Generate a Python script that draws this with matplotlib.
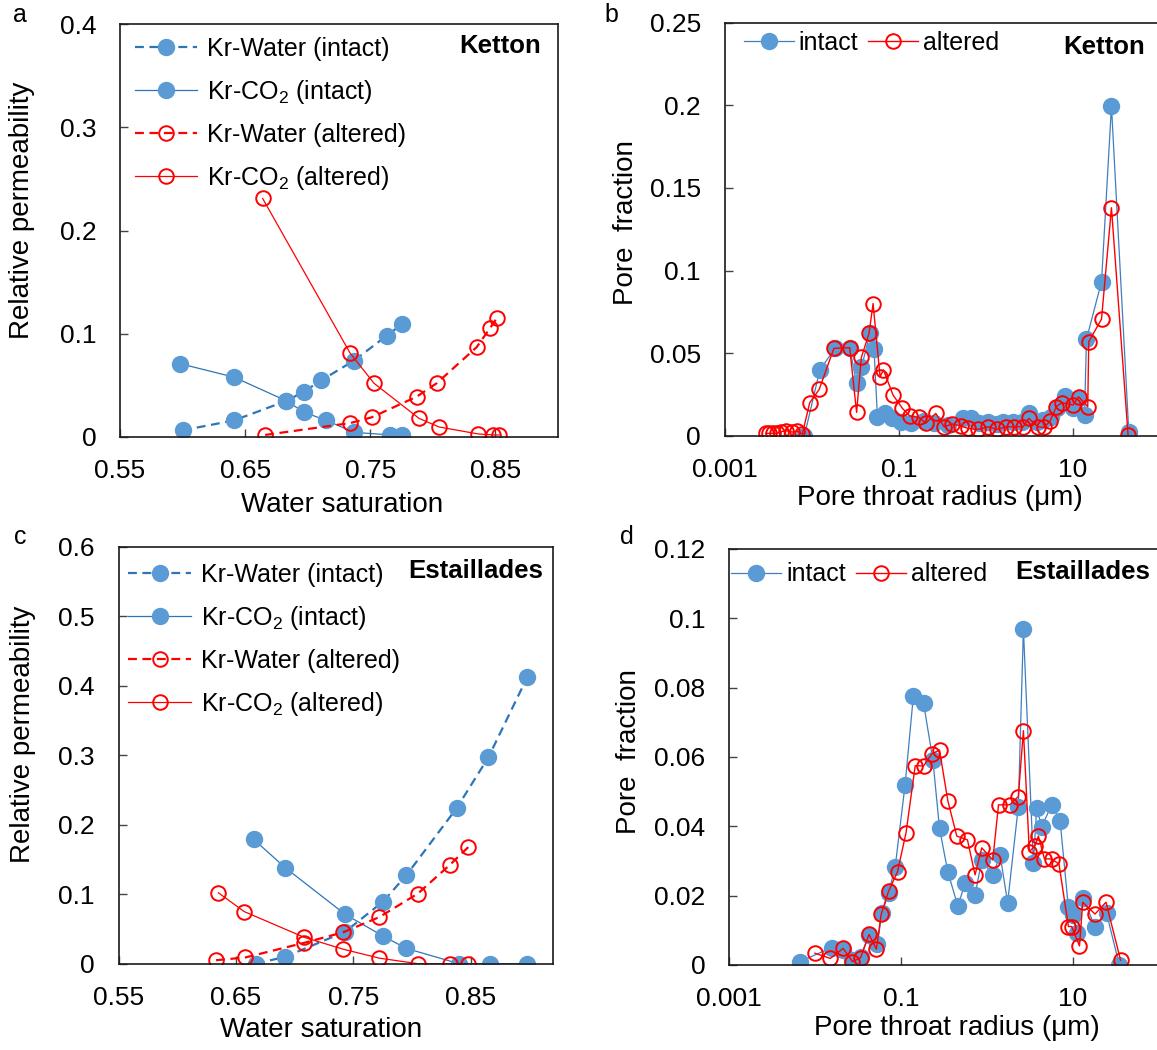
import numpy as np
import matplotlib
matplotlib.use('Agg')
import matplotlib.pyplot as plt
from matplotlib.ticker import FixedLocator, FuncFormatter

plt.rcParams['font.family'] = ['Liberation Sans', 'DejaVu Sans']
plt.rcParams['mathtext.fontset'] = 'custom'
plt.rcParams['mathtext.rm'] = 'Liberation Sans'
plt.rcParams['mathtext.it'] = 'Liberation Sans:italic'

BLUE = '#5B9BD5'
BLUE_LINE = '#2E75B6'
RED = '#FF0000'

# Ketton relative permeability
ket_sw_water_int = [0.600, 0.641, 0.683, 0.697, 0.711, 0.737, 0.763, 0.775]
ket_kr_water_int = [0.0065, 0.016, 0.035, 0.044, 0.055, 0.074, 0.098, 0.109]
ket_sw_co2_int = [0.598, 0.641, 0.683, 0.697, 0.715, 0.737, 0.766, 0.775]
ket_kr_co2_int = [0.071, 0.058, 0.035, 0.024, 0.016, 0.0045, 0.002, 0.002]
ket_sw_water_alt = [0.666, 0.734, 0.751, 0.787, 0.803, 0.835, 0.846, 0.851]
ket_kr_water_alt = [0.002, 0.0135, 0.019, 0.039, 0.052, 0.087, 0.106, 0.115]
ket_sw_co2_alt = [0.664, 0.734, 0.753, 0.789, 0.805, 0.836, 0.848, 0.853]
ket_kr_co2_alt = [0.231, 0.081, 0.052, 0.018, 0.0097, 0.003, 0.002, 0.002]

# Estaillades relative permeability
est_sw_water_int = [0.667, 0.692, 0.743, 0.775, 0.795, 0.838, 0.865, 0.898]
est_kr_water_int = [0.0, 0.010, 0.046, 0.089, 0.127, 0.224, 0.297, 0.412]
est_sw_co2_int = [0.665, 0.692, 0.743, 0.775, 0.795, 0.840, 0.866, 0.898]
est_kr_co2_int = [0.179, 0.138, 0.071, 0.040, 0.022, 0.0, 0.0, 0.0]
est_sw_water_alt = [0.633, 0.658, 0.708, 0.741, 0.772, 0.805, 0.832, 0.848]
est_kr_water_alt = [0.005, 0.009, 0.030, 0.045, 0.067, 0.101, 0.142, 0.168]
est_sw_co2_alt = [0.635, 0.657, 0.708, 0.741, 0.772, 0.805, 0.832, 0.848]
est_kr_co2_alt = [0.102, 0.075, 0.038, 0.021, 0.008, 0.0, 0.0, 0.0]

# Ketton pore throat size distribution
ket_r_int = [0.00826, 0.0124, 0.0185, 0.0273, 0.0328, 0.0373, 0.0468, 0.052, 0.0569, 0.069,
             0.0847, 0.105, 0.137, 0.195, 0.255, 0.363, 0.54, 0.67, 0.84, 1.07,
             1.36, 1.57, 2.07, 2.6, 3.11, 3.9, 4.59, 5.58, 6.5, 8.07,
             10.0, 11.6, 13.6, 14.3, 21.3, 27.7, 43.8]
ket_f_int = [0.0, 0.0398, 0.0528, 0.0533, 0.0317, 0.0414, 0.062, 0.0523, 0.0115, 0.0139,
             0.0105, 0.0085, 0.0075, 0.009, 0.0075, 0.0065, 0.0105, 0.0105, 0.0075, 0.0085,
             0.007, 0.0085, 0.0085, 0.008, 0.0135, 0.008, 0.0095, 0.0115, 0.017, 0.024,
             0.0165, 0.0226, 0.0125, 0.0583, 0.0932, 0.1996, 0.0024]
ket_r_alt = [0.00297, 0.00325, 0.0036, 0.00405, 0.0045, 0.0051, 0.006, 0.0068, 0.0078, 0.0095,
             0.0122, 0.018, 0.0273, 0.0328, 0.0372, 0.0456, 0.0507, 0.061, 0.0667, 0.086,
             0.110, 0.134, 0.171, 0.204, 0.266, 0.332, 0.414, 0.515, 0.625, 0.81,
             1.07, 1.36, 1.70, 2.11, 2.69, 3.11, 3.97, 4.69, 5.47, 6.46,
             7.47, 10.0, 11.6, 14.8, 15.2, 21.3, 27.7, 43.0]
ket_f_alt = [0.0014, 0.0014, 0.0015, 0.0016, 0.0025, 0.003, 0.0022, 0.0028, 0.001, 0.020,
             0.028, 0.0529, 0.0533, 0.0141, 0.0474, 0.062, 0.080, 0.0357, 0.0398, 0.0246,
             0.0166, 0.0119, 0.0111, 0.0075, 0.0135, 0.0054, 0.0071, 0.0059, 0.0044, 0.0038,
             0.0054, 0.0038, 0.0054, 0.0054, 0.0054, 0.0105, 0.0054, 0.005, 0.009, 0.0176,
             0.020, 0.0186, 0.0236, 0.0176, 0.0569, 0.0706, 0.138, 0.0004]

# Estaillades pore throat size distribution
est_r_int = [0.00671, 0.0156, 0.0213, 0.0273, 0.034, 0.0426, 0.0534, 0.060, 0.072, 0.086,
             0.112, 0.140, 0.184, 0.236, 0.282, 0.352, 0.461, 0.560, 0.731, 0.875,
             1.175, 1.43, 1.75, 2.33, 2.67, 3.49, 3.81, 4.36, 5.70, 7.13,
             8.9, 10.2, 11.1, 13.3, 18.2, 24.8, 34.9]
est_f_int = [0.001, 0.005, 0.0043, 0.0014, 0.0024, 0.0087, 0.006, 0.0149, 0.0207, 0.0284,
             0.0519, 0.0777, 0.0755, 0.0591, 0.0394, 0.0269, 0.0170, 0.0236, 0.0202, 0.0303,
             0.026, 0.0317, 0.018, 0.0457, 0.0969, 0.0293, 0.0452, 0.0399, 0.0462, 0.0416,
             0.0168, 0.0144, 0.0091, 0.0192, 0.011, 0.0149, 0.0]
est_r_alt = [0.01, 0.0151, 0.0213, 0.0273, 0.034, 0.0426, 0.0519, 0.059, 0.072, 0.0915,
             0.115, 0.147, 0.184, 0.229, 0.282, 0.352, 0.448, 0.596, 0.731, 0.875,
             1.175, 1.37, 1.84, 2.33, 2.67, 3.13, 3.65, 3.99, 4.69, 5.70,
             6.93, 8.92, 9.73, 12.0, 13.1, 18.2, 24.4, 36.1]
est_f_alt = [0.0034, 0.0019, 0.0048, 0.001, 0.0021, 0.0088, 0.0046, 0.0146, 0.0213, 0.0269,
             0.0382, 0.0575, 0.0574, 0.0609, 0.0620, 0.0474, 0.0372, 0.0361, 0.026, 0.0338,
             0.0303, 0.0462, 0.0462, 0.0486, 0.0676, 0.0327, 0.0344, 0.0372, 0.0306, 0.0306,
             0.0291, 0.0111, 0.0111, 0.0055, 0.0181, 0.0147, 0.0181, 0.0014]

kr_labels = ['Kr-Water (intact)', 'Kr-CO$_\\mathregular{2}$ (intact)',
             'Kr-Water (altered)', 'Kr-CO$_\\mathregular{2}$ (altered)']

W, H = 1157, 1050
fig = plt.figure(figsize=(W / 100, H / 100), dpi=100)


def box(l, t, r, b):
    return [l / W, 1 - b / H, (r - l) / W, (b - t) / H]


fmt = FuncFormatter(lambda v, p: f'{v:g}')
DASH = (0, (4, 2.5))
MS_B, MS_R, MEW_R = 11.5, 10.5, 1.4


def style(ax):
    for s in ax.spines.values():
        s.set_color('#1a1a1a')
        s.set_linewidth(1.2)
    ax.tick_params(direction='in', length=6, width=1, colors='#444444',
                   labelcolor='black', labelsize=19, pad=16)
    ax.tick_params(axis='y', pad=17)
    ax.yaxis.set_major_formatter(fmt)
    ax.xaxis.set_major_formatter(fmt)


def kr_panel(ax, data, xmax, ymax, ystep, leg_xy, title, title_xy):
    (a1, b1), (a2, b2), (a3, b3), (a4, b4) = data
    ax.plot(a1, b1, ls=DASH, lw=1.6, color=BLUE_LINE, marker='o', ms=MS_B,
            mfc=BLUE, mec=BLUE, label=kr_labels[0])
    ax.plot(a2, b2, ls='-', lw=0.9, color=BLUE_LINE, marker='o', ms=MS_B,
            mfc=BLUE, mec=BLUE, label=kr_labels[1])
    ax.plot(a3, b3, ls=DASH, lw=1.6, color=RED, marker='o', ms=MS_R,
            mfc='none', mec=RED, mew=MEW_R, label=kr_labels[2])
    ax.plot(a4, b4, ls='-', lw=0.9, color=RED, marker='o', ms=MS_R,
            mfc='none', mec=RED, mew=MEW_R, label=kr_labels[3])
    ax.set_xlim(0.55, xmax)
    ax.set_ylim(0, ymax)
    ax.xaxis.set_major_locator(FixedLocator([0.55, 0.65, 0.75, 0.85]))
    ax.yaxis.set_major_locator(FixedLocator(np.arange(0, ymax + 1e-9, ystep)))
    style(ax)
    ax.legend(loc='upper left', bbox_to_anchor=leg_xy, frameon=False, fontsize=18,
              handlelength=2.5, handletextpad=0.4, labelspacing=0.68, borderpad=0,
              borderaxespad=0)
    ax.text(*title_xy, title, transform=ax.transAxes, ha='right', va='center',
            fontsize=18.5, fontweight='bold')
    ax.set_xlabel('Water saturation', fontsize=20, va='center')
    ax.set_ylabel('Relative permeability', fontsize=20, va='center', ha='center')


def psd_panel(ax, r1, f1, r2, f2, ymax, ystep, leg_xy, title, title_xy):
    ax.plot(r1, f1, ls='-', lw=0.9, color='#3F7FC0', marker='o', ms=MS_B,
            mfc=BLUE, mec=BLUE, label='intact')
    ax.plot(r2, f2, ls='-', lw=1.0, color=RED, marker='o', ms=MS_R,
            mfc='none', mec=RED, mew=MEW_R, label='altered')
    ax.set_xscale('log')
    ax.set_xlim(0.001, 100)
    ax.set_ylim(0, ymax)
    ax.xaxis.set_major_locator(FixedLocator([0.001, 0.1, 10, 1000]))
    ax.xaxis.set_minor_locator(FixedLocator([]))
    ax.yaxis.set_major_locator(FixedLocator(np.arange(0, ymax + 1e-9, ystep)))
    style(ax)
    ax.legend(loc='upper left', bbox_to_anchor=leg_xy, frameon=False, fontsize=18,
              ncol=2, handlelength=2.0, handletextpad=0.2, columnspacing=0.4,
              borderpad=0, borderaxespad=0)
    ax.text(*title_xy, title, transform=ax.transAxes, ha='right', va='center',
            fontsize=18.5, fontweight='bold')
    ax.set_xlabel('Pore throat radius (μm)', fontsize=20, va='center')
    ax.set_ylabel('Pore  fraction', fontsize=20, va='center', ha='center')


ax_a = fig.add_axes(box(120, 24, 558, 437))
kr_panel(ax_a, [(ket_sw_water_int, ket_kr_water_int), (ket_sw_co2_int, ket_kr_co2_int),
                (ket_sw_water_alt, ket_kr_water_alt), (ket_sw_co2_alt, ket_kr_co2_alt)],
         0.90, 0.4, 0.1, (0.034, 0.969), 'Ketton', (0.961, 0.947))
ax_a.xaxis.set_label_coords(0.507, -0.165)
ax_a.yaxis.set_label_coords(-0.224, 0.55)

ax_b = fig.add_axes(box(724.6, 22.7, 1160, 435.7))
psd_panel(ax_b, ket_r_int, ket_f_int, ket_r_alt, ket_f_alt, 0.25, 0.05,
          (0.044, 0.981), 'Ketton', (0.9655, 0.941))
ax_b.xaxis.set_label_coords(0.494, -0.151)
ax_b.yaxis.set_label_coords(-0.226, 0.515)

ax_c = fig.add_axes(box(118.6, 546.7, 553, 963.7))
kr_panel(ax_c, [(est_sw_water_int, est_kr_water_int), (est_sw_co2_int, est_kr_co2_int),
                (est_sw_water_alt, est_kr_water_alt), (est_sw_co2_alt, est_kr_co2_alt)],
         0.92, 0.6, 0.1, (0.0225, 0.961), 'Estaillades', (0.978, 0.9424))
ax_c.xaxis.set_label_coords(0.467, -0.159)
ax_c.yaxis.set_label_coords(-0.22, 0.551)

ax_d = fig.add_axes(box(729, 549, 1158.6, 965))
psd_panel(ax_d, est_r_int, est_f_int, est_r_alt, est_f_alt, 0.12, 0.02,
          (0.005, 0.968), 'Estaillades', (0.98, 0.945))
ax_d.xaxis.set_label_coords(0.531, -0.151)
ax_d.yaxis.set_label_coords(-0.233, 0.514)

for letter, (x, y) in zip('abcd', [(20, 15), (611, 15), (20, 537), (627, 537)]):
    fig.text(x / W, 1 - y / H, letter, fontsize=18, ha='center', va='center')

fig.savefig('out.png', dpi=100)
